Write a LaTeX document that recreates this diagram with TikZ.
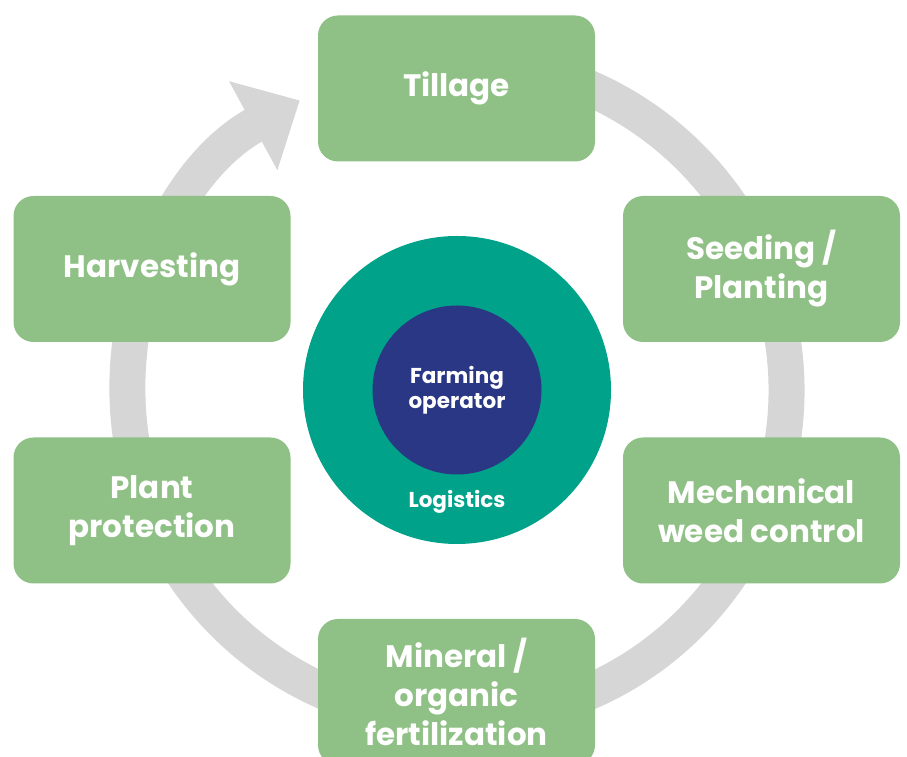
\documentclass[tikz,border=0pt]{standalone}
\usepackage{fontspec}
\setmainfont{Poppins}
\usepackage{tikz}
\usetikzlibrary{positioning,arrows.meta,bending}
\definecolor{stagegreen}{RGB}{143,192,133}
\definecolor{logteal}{RGB}{0,162,138}
\definecolor{opnavy}{RGB}{42,55,132}
\definecolor{ringgrey}{RGB}{214,214,214}

\begin{document}
\begin{tikzpicture}[x=1pt,y=1pt,
    stage/.style={rectangle, rounded corners=20pt, fill=stagegreen, text=white,
        minimum width=277pt, minimum height=146pt, inner sep=0pt, align=center,
        font=\bfseries\fontsize{31}{39}\selectfont},
    hubtext/.style={text=white, align=center, font=\bfseries\fontsize{21.5}{25}\selectfont},
    cycle ring/.style={ringgrey, line width=36pt}]
    \clip (0,0) rectangle (907,757);
    \coordinate (hub) at (457,367);
    % cycle arrow behind the stages
    \draw[cycle ring, -{Triangle[width=98pt,length=53pt,quick]}]
        (hub) ++(100:329.5) arc[start angle=100, end angle=-241.5, radius=329.5];
    % stages
    \node[stage] (tillage)    at (456.5,668.5) {Tillage};
    \node[stage] (seeding)    at (761.5,488)   {Seeding /\\Planting};
    \node[stage] (weeding)    at (761.5,246.5) {Mechanical\\weed control};
    \node[stage] (fertilize)  at (456.5,65)    {Mineral /\\organic\\fertilization};
    \node[stage] (protection) at (152,246.5)   {Plant\\protection};
    \node[stage] (harvest)    at (152,488)     {Harvesting};
    % logistics and operator
    \node[circle, fill=logteal, minimum size=308pt, inner sep=0pt] (logistics) at (hub) {};
    \node[circle, fill=opnavy, minimum size=169pt, inner sep=0pt, hubtext] (operator) at (hub) {Farming\\operator};
    \node[hubtext, below=12pt of operator] (logtext) {Logistics};
\end{tikzpicture}
\end{document}
